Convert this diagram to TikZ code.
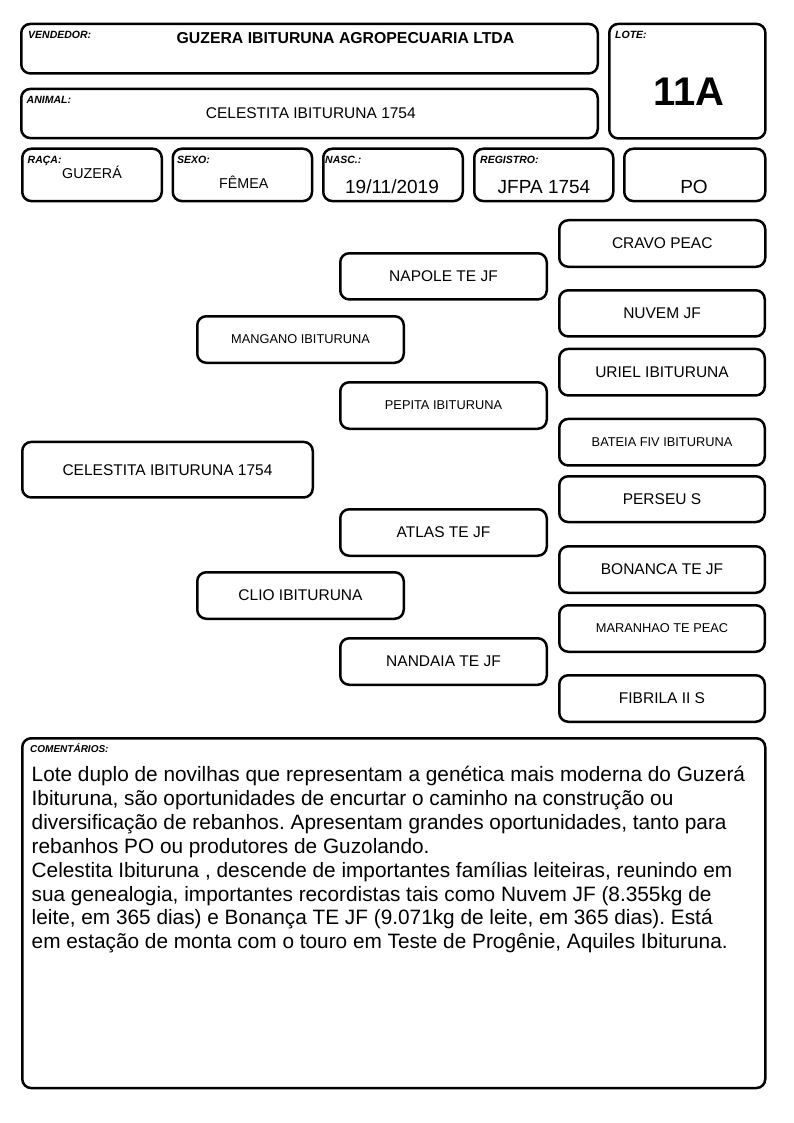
\documentclass[tikz,border=0pt]{standalone}
\usepackage{fontspec}
\setmainfont{Liberation Sans}
\frenchspacing
\newcommand\bx[7]{\node[box,#2,minimum width={#5-#3-2.5},minimum height={#6-#4-2.5}] (#1) at ({(#3+#5)/2},{(#4+#6)/2}) {#7};}
\tikzset{
  box/.style={draw, line width=2.5pt, rounded corners=9pt, inner sep=0pt},
  lab/.style={font=\fontsize{10.5}{12}\selectfont\bfseries\itshape, anchor=base west, inner sep=0pt},
  val/.style={anchor=base, inner sep=0pt},
  big/.style={font=\fontsize{15.5}{18}\selectfont},
  small/.style={font=\fontsize{12.8}{15}\selectfont},
}
\begin{document}
\begin{tikzpicture}[x=1pt,y=-1pt]
\useasboundingbox[fill=white] (0,0) rectangle (794,1123);
% header boxes
\bx{vend}{}{20}{22.7}{599}{74.7}{}
\bx{lote}{}{608}{22.7}{766.7}{139.7}{}
\bx{anim}{}{20}{87.7}{599}{139.3}{}
\bx{raca}{}{21}{147.5}{163}{202.3}{}
\bx{sexo}{}{171.5}{147.5}{313.3}{202.3}{}
\bx{nasc}{}{322}{147.5}{464}{202.3}{}
\bx{reg}{}{473}{147.5}{614.5}{202.3}{}
\bx{po}{}{623}{147.5}{766.5}{202.3}{}
% labels
\node[lab] (lvend) at (28,38.7) {VENDEDOR:};
\node[lab] (llote) at (615,38.7) {LOTE:};
\node[lab] (lanim) at (26.5,103.3) {ANIMAL:};
\node[lab] (lraca) at (27.5,163.3) {RAÇA:};
\node[lab] (lsexo) at (177,163.3) {SEXO:};
\node[lab] (lnasc) at (325,163.3) {NASC.:};
\node[lab] (lreg) at (480,163.3) {REGISTRO:};
% values
\node[val, font=\fontsize{15.8}{18}\selectfont\bfseries] (tvend) at (345.5,43.3) {GUZERA IBITURUNA AGROPECUARIA LTDA};
\node[val, font=\fontsize{40}{44}\selectfont\bfseries] (tlote) at (689,105.3) {11A};
\node[val, font=\fontsize{15.5}{18}\selectfont] (tanim) at (310.8,118.3) {CELESTITA IBITURUNA 1754};
\node[val, font=\fontsize{14.3}{17}\selectfont] (traca) at (92,178.3) {GUZERÁ};
\node[val, font=\fontsize{14.3}{17}\selectfont] (tsexo) at (243.7,188.3) {FÊMEA};
\node[val, font=\fontsize{19}{22}\selectfont] (tnasc) at (392,193.3) {19/11/2019};
\node[val, font=\fontsize{19}{22}\selectfont] (treg) at (544,193.3) {JFPA 1754};
\node[val, font=\fontsize{19}{22}\selectfont] (tpo) at (694,193.3) {PO};
% pedigree
\bx{cravo}{big}{558}{219}{766.5}{268}{CRAVO PEAC}
\bx{napole}{big}{339}{252}{548}{300.7}{NAPOLE TE JF}
\bx{nuvem}{big}{558}{289}{766}{337.7}{NUVEM JF}
\bx{mangano}{small}{196}{315}{405}{364}{MANGANO IBITURUNA}
\bx{uriel}{big}{558}{347.7}{766}{396.7}{URIEL IBITURUNA}
\bx{pepita}{small}{339}{381}{548}{430}{PEPITA IBITURUNA}
\bx{bateia}{small}{558}{417.7}{766}{466.7}{BATEIA FIV IBITURUNA}
\bx{celestita}{big}{21}{440.7}{314}{498.7}{CELESTITA IBITURUNA 1754}
\bx{perseu}{big}{558}{475}{766}{523.3}{PERSEU S}
\bx{atlas}{big}{339}{508}{548}{557}{ATLAS TE JF}
\bx{bonanca}{big}{558}{545}{766}{594}{BONANCA TE JF}
\bx{clio}{big}{196}{571}{405}{620}{CLIO IBITURUNA}
\bx{maranhao}{small}{558}{604}{766}{653}{MARANHAO TE PEAC}
\bx{nandaia}{big}{339}{637}{548}{686}{NANDAIA TE JF}
\bx{fibrila}{big}{558}{674}{766}{723}{FIBRILA II S}
% comments
\bx{com}{}{21}{737}{766.5}{1089.3}{}
\node[lab, font=\fontsize{10}{12}\selectfont\bfseries\itshape] (lcom) at (30,752.3) {COMENTÁRIOS:};
\node[anchor=base west, inner sep=0pt, font=\fontsize{20.8}{23.9}\selectfont] (tcom) at (31.5,781.5) {\parbox[t]{740pt}{\raggedright
Lote duplo de novilhas que representam a genética mais moderna do Guzerá\\
Ibituruna, são oportunidades de encurtar o caminho na construção ou\\
diversificação de rebanhos. Apresentam grandes oportunidades, tanto para\\
rebanhos PO ou produtores de Guzolando.\\
Celestita Ibituruna , descende de importantes famílias leiteiras, reunindo em\\
sua genealogia, importantes recordistas tais como Nuvem JF (8.355kg de\\
leite, em 365 dias) e Bonança TE JF (9.071kg de leite, em 365 dias). Está\\
em estação de monta com o touro em Teste de Progênie, Aquiles Ibituruna.}};
\end{tikzpicture}
\end{document}
